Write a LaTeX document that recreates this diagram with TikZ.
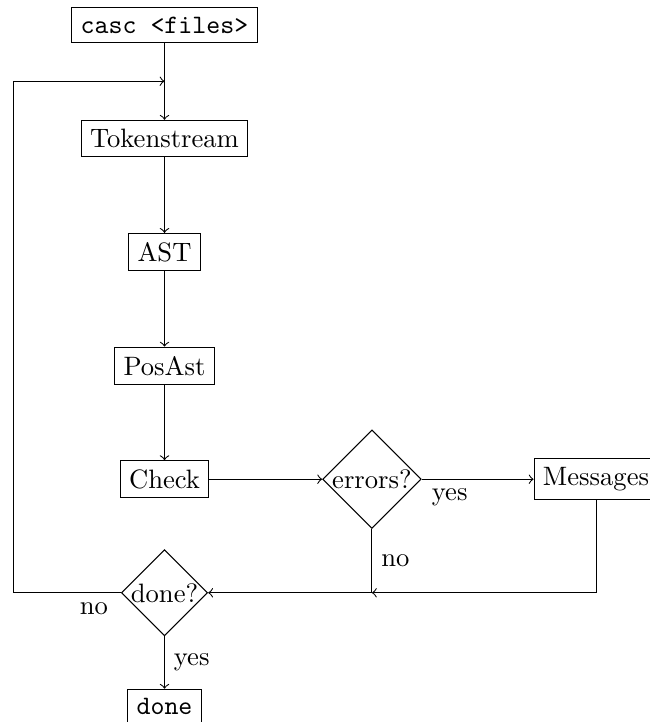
\documentclass[tikz,border=0pt]{standalone}
\usepackage{tikz}
\usetikzlibrary{positioning,shapes.geometric}

\begin{document}
\begin{tikzpicture}[
  node distance=1.5cm,
  on grid,
  box/.style={draw},
  decision/.style={draw, diamond, aspect=1, inner sep=0pt},
  arrow/.style={->}
]

% fixed frame, same margins as the reference
\useasboundingbox (-2.173,0.33) rectangle (6.40,-9.207);

\node[box] (casc) {\texttt{casc <files>}};
\node[box, below=of casc] (tok) {Tokenstream};
\node[box, below=of tok] (ast) {AST};
\node[box, below=of ast] (posast) {PosAst};
\node[box, below=of posast] (check) {Check};
\node[decision, right=2.74cm of check] (err) {errors?};
\node[box, right=2.96cm of err] (msg) {Messages};
\node[decision, below=of check] (isdone) {done?};
\node[box, below=of isdone] (done) {\texttt{done}};

\coordinate (merge) at (err |- isdone);

\draw[arrow] (casc) -- coordinate (entry) (tok);
\draw[arrow] (tok) -- (ast);
\draw[arrow] (ast) -- (posast);
\draw[arrow] (posast) -- (check);
\draw[arrow] (check) -- (err);
\draw[arrow] (err) -- node[near start, below] {yes} (msg);
\draw[arrow] (err) |- node[near start, right] {no} (isdone);
\draw[arrow] (msg) |- (merge);
\draw[arrow] (isdone) -- node[right] {yes} (done);
\draw[arrow] (isdone) -- node[near start, below] {no} ++(-2,0) |- (entry);

\end{tikzpicture}
\end{document}
